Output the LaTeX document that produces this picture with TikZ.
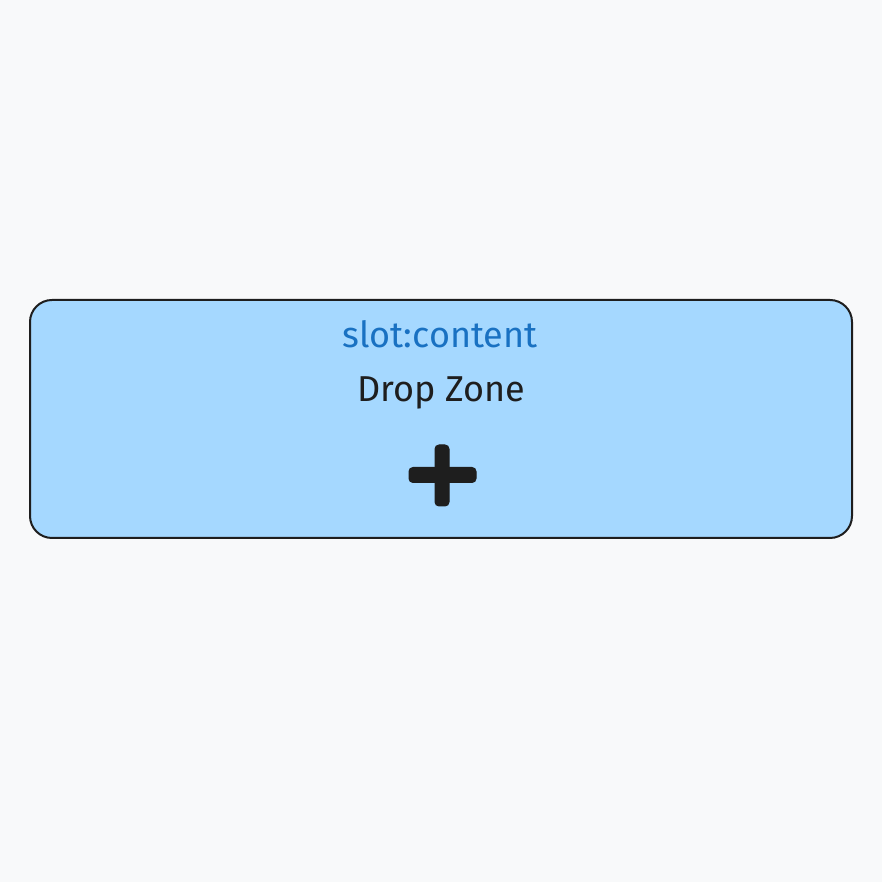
\documentclass[tikz,border=0pt]{standalone}
\usepackage{fontspec}
\setmainfont{Fira Sans}
\definecolor{bgc}{HTML}{F8F9FA}
\definecolor{boxfill}{HTML}{A5D8FF}
\definecolor{ink}{HTML}{1E1E1E}
\definecolor{bluetxt}{HTML}{1971C2}
\tikzset{
  zonebox/.style={draw=ink, fill=boxfill, line width=2pt, rounded corners=22pt},
  lbl/.style={inner sep=0pt, font=\fontsize{36}{40}\selectfont},
  plusbar/.style={fill=ink, draw=ink, line width=1pt, rounded corners=4pt}
}
\begin{document}
\begin{tikzpicture}[x=1pt,y=1pt]
\useasboundingbox[fill=bgc] (0,0) rectangle (882,882);
\draw[zonebox] (30,{882-300}) rectangle (852,{882-538});
\node[lbl, text=bluetxt] (slot) at (440,{882-334}) {slot:content};
\node[lbl, text=ink] (drop) at (441,{882-393}) {Drop Zone};
\node (plus) at (442,{882-475}) {};
\fill[plusbar] ([shift={(-7,-31)}]plus.center) rectangle ([shift={(7,30)}]plus.center);
\fill[plusbar] ([shift={(-33,-7.5)}]plus.center) rectangle ([shift={(34,7.5)}]plus.center);
\end{tikzpicture}
\end{document}
